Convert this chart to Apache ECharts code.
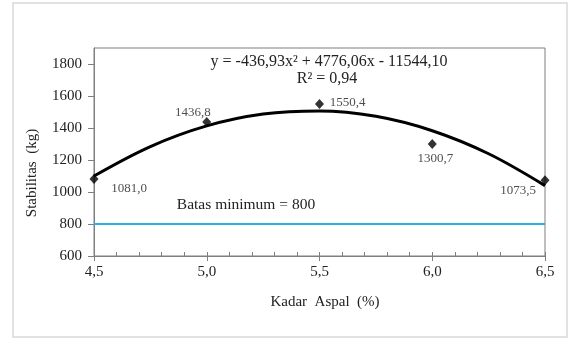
<!DOCTYPE html>
<html><head><meta charset="utf-8">
<script src="https://cdn.jsdelivr.net/npm/echarts@6/dist/echarts.min.js"></script>
<style>html,body{margin:0;padding:0;background:#fff}#c{width:570px;height:338px}</style>
</head><body><div id="c"></div>
<script>
const kadarAspal = [4.5, 5.0, 5.5, 6.0, 6.5];
const stabilitas = [1081.0, 1436.8, 1550.4, 1300.7, 1073.5];
// trend curve
const trendX = [4.5, 4.75, 5.0, 5.25, 5.5, 5.75, 6.0, 6.25, 6.5];
const trendY = [1100, 1284, 1413, 1487, 1507, 1473, 1383, 1239, 1040];
const batasMinimum = 800;
const yTicks = [600, 800, 1000, 1200, 1400, 1600, 1800];
const equationText = 'y = -436,93x\u00b2 + 4776,06x - 11544,10';
const r2Text = 'R\u00b2 = 0,94';

const labelOffsets = [[35, 10], [-14, -10], [28, -1], [3, 15], [-27, 10]];
const fmt = v => v.toFixed(1).replace('.', ',');
const serif = '"Liberation Serif", "DejaVu Serif", serif';

const chart = echarts.init(document.getElementById('c'));
chart.setOption({
  animation: false,
  backgroundColor: '#fff',
  grid: { left: 94, right: 25, top: 48, bottom: 82, show: true, borderColor: '#7f7f7f', borderWidth: 1, backgroundColor: 'transparent' },
  xAxis: [{
    type: 'value', min: 4.5, max: 6.5, interval: 0.5,
    axisLine: { show: true, lineStyle: { color: '#7f7f7f' } },
    axisTick: { show: true, inside: false, length: 5, lineStyle: { color: '#7f7f7f' } },
    splitLine: { show: false },
    axisLabel: { formatter: v => fmt(v), color: '#222', fontFamily: serif, fontSize: 15, margin: 9 }
  }, {
    type: 'value', min: 4.5, max: 6.5, interval: 0.1, position: 'bottom',
    axisLine: { show: false },
    axisTick: { show: true, inside: true, length: 4, lineStyle: { color: '#7f7f7f' } },
    splitLine: { show: false },
    axisLabel: { show: false }
  }],
  yAxis: {
    type: 'value', min: 600, max: 1900, interval: 200,
    axisLine: { show: true, lineStyle: { color: '#7f7f7f' } },
    axisTick: { show: true, length: 6, customValues: yTicks, lineStyle: { color: '#7f7f7f' } },
    splitLine: { show: false },
    axisLabel: { customValues: yTicks, formatter: v => String(v), color: '#222', fontFamily: serif, fontSize: 15, margin: 12 }
  },
  graphic: [
    { type: 'rect', shape: { x: 13, y: 3, width: 554, height: 334 }, style: { fill: 'none', stroke: '#d9d9d9', lineWidth: 1.5 }, z: -1 },
    { type: 'text', x: 329, y: 62, style: { text: equationText, font: '16px ' + serif, fill: '#222', align: 'center', verticalAlign: 'middle' } },
    { type: 'text', x: 327, y: 79, style: { text: r2Text, font: '16px ' + serif, fill: '#222', align: 'center', verticalAlign: 'middle' } },
    { type: 'text', x: 246, y: 205, style: { text: 'Batas minimum = 800', font: '15.5px ' + serif, fill: '#222', align: 'center', verticalAlign: 'middle' } },
    { type: 'text', x: 325, y: 302, style: { text: 'Kadar  Aspal  (%)', font: '15px ' + serif, fill: '#222', align: 'center', verticalAlign: 'middle' } },
    { type: 'text', x: 32, y: 173, rotation: Math.PI / 2, style: { text: 'Stabilitas  (kg)', font: '15px ' + serif, fill: '#222', align: 'center', verticalAlign: 'middle' } }
  ],
  series: [
    {
      type: 'line', data: [[4.5, batasMinimum], [6.5, batasMinimum]],
      showSymbol: false, lineStyle: { color: '#2eaee3', width: 2 }, z: 2, silent: true
    },
    {
      type: 'line', data: trendX.map((x, i) => [x, trendY[i]]), smooth: 0.35,
      showSymbol: false, lineStyle: { color: '#000', width: 3 }, z: 3, silent: true
    },
    {
      type: 'scatter', symbol: 'diamond', symbolSize: [9, 10],
      itemStyle: { color: '#000' }, z: 4,
      data: kadarAspal.map((x, i) => ({
        value: [x, stabilitas[i]],
        label: { show: true, position: 'inside', offset: labelOffsets[i], formatter: fmt(stabilitas[i]), color: '#222', fontFamily: serif, fontSize: 13 }
      }))
    }
  ]
});
</script></body></html>
